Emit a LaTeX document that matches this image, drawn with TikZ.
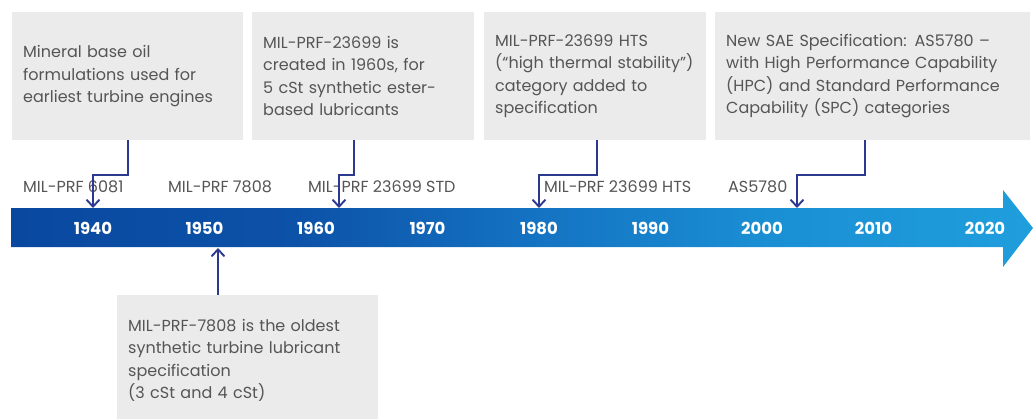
\documentclass[tikz,border=0pt]{standalone}
\usepackage{fontspec}
\setmainfont{Poppins}
\usetikzlibrary{arrows.meta}
\definecolor{boxgray}{HTML}{EBEBEB}
\definecolor{txtgray}{HTML}{555555}
\definecolor{navy}{HTML}{2B3A8F}
\pgfdeclarehorizontalshading{barshade}{100bp}{
  color(0bp)=(rgb,255:red,10;green,72;blue,160);
  color(25bp)=(rgb,255:red,10;green,72;blue,160);
  color(39bp)=(rgb,255:red,12;green,82;blue,168);
  color(50bp)=(rgb,255:red,20;green,113;blue,193);
  color(62bp)=(rgb,255:red,26;green,143;blue,212);
  color(75bp)=(rgb,255:red,31;green,158;blue,220);
  color(100bp)=(rgb,255:red,31;green,158;blue,220)}
\begin{document}
\begin{tikzpicture}[x=1pt,y=-1pt,
  infobox/.style={fill=boxgray, draw=none, anchor=north west, align=left, text=txtgray,
    inner xsep=11pt, inner ysep=0pt, font=\fontsize{16}{22.5}\selectfont},
  speclabel/.style={anchor=west, text=txtgray, inner sep=0pt, font=\fontsize{16}{18}\selectfont},
  yearlabel/.style={text=white, inner sep=0pt, font=\bfseries\fontsize{16.5}{18}\selectfont},
  link/.style={draw=navy, line width=1.9pt, -{Straight Barb[length=7pt,width=13pt,line width=1.9pt]}}]
\useasboundingbox (0,0) rectangle (1034,418);

% timeline arrow
\path[shading=barshade]
  (11,208) -- (1003,208) -- (1003,190) -- (1033,228) -- (1003,267) -- (1003,247) -- (11,247) -- cycle;

% years
\foreach \yr [count=\i from 0] in {1940,1950,1960,1970,1980,1990,2000,2010,2020}
  \node[yearlabel] (y\yr) at (93+111.5*\i,228) {\yr};

% boxes
\node[infobox, text width=209pt, minimum height=128pt] (b1) at (12,12)
  {Mineral base oil\\formulations used for\\earliest turbine engines};
\node[infobox, text width=200pt, minimum height=128pt] (b2) at (252,12)
  {MIL-PRF-23699 is\\created in 1960s, for\\5 cSt synthetic ester-\\based lubricants};
\node[infobox, text width=200pt, minimum height=128pt] (b3) at (484,12)
  {MIL-PRF-23699 HTS\\(“high thermal stability”)\\category added to\\specification};
\node[infobox, text width=293pt, minimum height=128pt, inner xsep=11pt] (b4) at (715,12)
  {New SAE Specification: AS5780 –\\with High Performance Capability\\(HPC) and Standard Performance\\Capability (SPC) categories};
\node[infobox, text width=239pt, minimum height=130pt] (b5) at (117,295)
  {MIL-PRF-7808 is the oldest\\synthetic turbine lubricant\\specification\\(3 cSt and 4 cSt)};

% spec labels
\node[speclabel] (s1) at (23,187) {MIL-PRF 6081};
\node[speclabel] (s2) at (168,187) {MIL-PRF 7808};
\node[speclabel] (s3) at (308,187) {MIL-PRF 23699 STD};
\node[speclabel] (s4) at (544,187) {MIL-PRF 23699 HTS};
\node[speclabel] (s5) at (728,187) {AS5780};

% connector anchors
\coordinate (k1) at (128,0);
\coordinate (k2) at (354,0);
\coordinate (k3) at (597,0);
\coordinate (k4) at (865,0);
\coordinate (t1) at (93,208);
\coordinate (t2) at (339,208);
\coordinate (t3) at (539,208);
\coordinate (t4) at (797,208);
\coordinate (t5) at (218,248);

\draw[link] (b1.south -| k1) -- ++(0,35) -| (t1);
\draw[link] (b2.south -| k2) -- ++(0,35) -| (t2);
\draw[link] (b3.south -| k3) -- ++(0,35) -| (t3);
\draw[link] (b4.south -| k4) -- ++(0,35) -| (t4);
\draw[link] (b5.north -| t5) -- (t5);
\end{tikzpicture}
\end{document}
